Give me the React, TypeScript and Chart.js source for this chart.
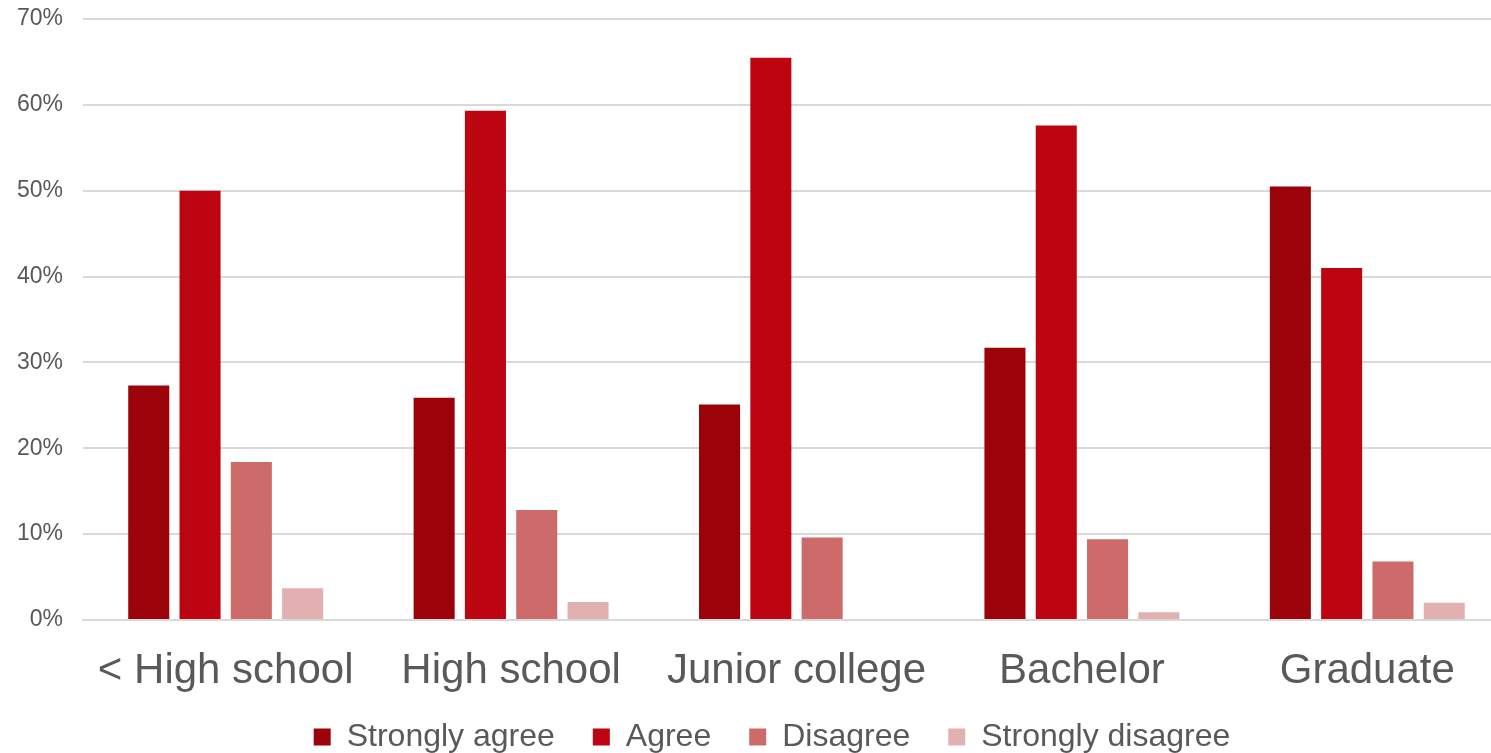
import React, { useEffect, useRef } from "react";
import { Chart, registerables } from "chart.js";

Chart.register(...registerables);

const categories = ["< High school", "High school", "Junior college", "Bachelor", "Graduate"];
const seriesNames = ["Strongly agree", "Agree", "Disagree", "Strongly disagree"];
const stronglyAgree = [27.3, 25.9, 25.1, 31.7, 50.5];
const agree = [50.0, 59.3, 65.5, 57.6, 41.0];
const disagree = [18.4, 12.8, 9.6, 9.4, 6.8];
const stronglyDisagree = [3.7, 2.1, 0, 0.9, 2.0];
const colors = ["#9B020A", "#BC0510", "#CD6A6A", "#E2B0B1"];
const yTicks = [0, 10, 20, 30, 40, 50, 60, 70];

const unclipLabels = {
  id: "unclipLabels",
  afterLayout(chart: any) {
    const x = chart.scales.x;
    if (x) x.bottom = chart.height;
    const y = chart.scales.y;
    if (y) y.left = 0;
  },
};

export default function App() {
  const ref = useRef<HTMLCanvasElement | null>(null);
  useEffect(() => {
    if (!ref.current) return;
    const values = [stronglyAgree, agree, disagree, stronglyDisagree];
    const font = "'Liberation Sans', Arial, sans-serif";
    const chart = new Chart(ref.current, {
      type: "bar",
      data: {
        labels: categories,
        datasets: seriesNames.map((name, i) => ({
          label: name,
          data: values[i],
          backgroundColor: colors[i],
          borderWidth: 0,
          categoryPercentage: 0.719,
          barPercentage: 0.8,
        })),
      },
      plugins: [unclipLabels],
      options: {
        animation: false,
        responsive: true,
        maintainAspectRatio: false,
        layout: { padding: { top: 19, right: 0, left: 34, bottom: -10 } },
        plugins: {
          tooltip: { enabled: false },
          legend: {
            position: "bottom",
            labels: {
              color: "#595959",
              font: { family: font, size: 32 },
              boxWidth: 17,
              boxHeight: 17,
              padding: 38,
            },
          },
        },
        scales: {
          x: {
            afterFit: (scale: any) => {
              scale.paddingLeft = 0;
              scale.paddingRight = 0;
              scale.height = 63;
            },
            grid: { display: false, drawTicks: false },
            border: { color: "#D9D9D9", width: 2 },
            ticks: {
              color: "#595959",
              font: { family: font, size: 42 },
              padding: 26,
              maxRotation: 0,
              autoSkip: false,
            },
          },
          y: {
            min: 0,
            max: 70,
            afterFit: (scale: any) => {
              scale.width = 49;
              scale.paddingTop = 0;
              scale.paddingBottom = 0;
            },
            afterBuildTicks: (scale: any) => {
              scale.ticks = yTicks.map((v) => ({ value: v }));
            },
            grid: { color: "#D9D9D9", lineWidth: 2, drawTicks: false },
            border: { display: false },
            ticks: {
              color: "#595959",
              font: { family: font, size: 23 },
              padding: 20,
              callback: (v: any) => v + "%",
            },
          },
        },
      },
    });
    return () => chart.destroy();
  }, []);
  return (
    <div style={{ position: "fixed", left: 0, top: 0, width: 1491, height: 753, overflow: "hidden", background: "#fff" }}>
      <div style={{ position: "absolute", left: 0, top: 0, width: 1510, height: 753 }}>
        <canvas ref={ref} />
      </div>
    </div>
  );
}
